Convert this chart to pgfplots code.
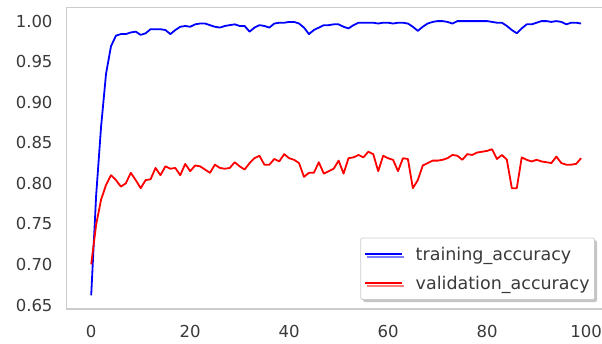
\documentclass[border=0pt]{standalone}
\usepackage{pgfplots}
\pgfplotsset{compat=1.18}
\usepackage{pgfplotstable}
\usepackage{fontspec}
\setmainfont{DejaVu Sans}
\usetikzlibrary{shadows}
\definecolor{framegray}{HTML}{CCCCCC}
\definecolor{tickgray}{HTML}{3A3A3A}
\definecolor{lblue}{HTML}{0000FF}
\definecolor{lred}{HTML}{FF0000}

\pgfplotstableread{
ep acc
0 0.662
1 0.785
2 0.870
3 0.935
4 0.969
5 0.982
6 0.984
7 0.984
8 0.986
9 0.987
10 0.983
11 0.985
12 0.990
13 0.990
14 0.990
15 0.989
16 0.984
17 0.989
18 0.993
19 0.994
20 0.993
21 0.996
22 0.997
23 0.997
24 0.995
25 0.993
26 0.992
27 0.994
28 0.995
29 0.996
30 0.994
31 0.994
32 0.987
33 0.992
34 0.995
35 0.994
36 0.992
37 0.997
38 0.998
39 0.998
40 0.999
41 0.999
42 0.997
43 0.992
44 0.984
45 0.989
46 0.992
47 0.995
48 0.995
49 0.996
50 0.996
51 0.993
52 0.991
53 0.995
54 0.998
55 0.998
56 0.998
57 0.998
58 0.997
59 0.998
60 0.998
61 0.997
62 0.998
63 0.998
64 0.997
65 0.993
66 0.988
67 0.993
68 0.997
69 0.999
70 1.000
71 1.000
72 0.999
73 0.997
74 1.000
75 1.000
76 1.000
77 1.000
78 1.000
79 1.000
80 1.000
81 0.999
82 0.998
83 0.998
84 0.994
85 0.989
86 0.985
87 0.991
88 0.996
89 0.996
90 0.998
91 1.000
92 1.000
93 0.999
94 1.000
95 0.999
96 0.996
97 0.998
98 0.998
99 0.997
}\train

\pgfplotstableread{
ep acc
0 0.700
1 0.749
2 0.780
3 0.798
4 0.810
5 0.804
6 0.796
7 0.800
8 0.813
9 0.804
10 0.794
11 0.804
12 0.805
13 0.819
14 0.810
15 0.821
16 0.818
17 0.819
18 0.810
19 0.824
20 0.815
21 0.822
22 0.821
23 0.817
24 0.813
25 0.823
26 0.819
27 0.818
28 0.819
29 0.826
30 0.821
31 0.817
32 0.825
33 0.831
34 0.834
35 0.823
36 0.823
37 0.830
38 0.827
39 0.836
40 0.831
41 0.829
42 0.825
43 0.808
44 0.813
45 0.813
46 0.826
47 0.812
48 0.815
49 0.818
50 0.828
51 0.812
52 0.831
53 0.832
54 0.835
55 0.832
56 0.839
57 0.836
58 0.815
59 0.834
60 0.831
61 0.829
62 0.815
63 0.831
64 0.830
65 0.794
66 0.804
67 0.822
68 0.825
69 0.828
70 0.828
71 0.829
72 0.831
73 0.835
74 0.834
75 0.829
76 0.836
77 0.835
78 0.838
79 0.839
80 0.840
81 0.842
82 0.830
83 0.835
84 0.829
85 0.794
86 0.794
87 0.832
88 0.829
89 0.827
90 0.829
91 0.827
92 0.826
93 0.825
94 0.833
95 0.825
96 0.823
97 0.823
98 0.824
99 0.831
}\valid

\begin{document}
\begin{tikzpicture}
\useasboundingbox (0,0) rectangle (602pt,344pt);
\begin{axis}[
  at={(66.7pt,35pt)}, anchor=south west,
  scale only axis, width=538.9pt, height=301.6pt,
  xmin=-4.95, xmax=103.95, ymin=0.6451, ymax=1.0169,
  axis line style={draw=framegray, line width=1.3pt},
  major tick length=0pt,
  xtick={0,20,40,60,80,100},
  ytick={0.65,0.7,0.75,0.8,0.85,0.9,0.95,1},
  /pgf/number format/assume math mode=true,
  yticklabel style={/pgf/number format/fixed, /pgf/number format/fixed zerofill, /pgf/number format/precision=2},
  ticklabel style={font=\fontsize{16.5}{19}\selectfont, text=tickgray, inner sep=0pt},
  xticklabel shift=16pt,
  yticklabel shift=14pt,
  legend cell align=left,
  legend style={
    at={(0.9803,0.0300)}, anchor=south east,
    draw=framegray, line width=0.8pt, fill=white, rounded corners=1.5pt,
    drop shadow={shadow xshift=2.5pt, shadow yshift=-2.5pt, fill=black!45},
    font=\fontsize{17.5}{21}\selectfont, text=tickgray,
    inner xsep=3pt, inner ysep=7pt,
    row sep=10pt, column sep=11pt,
    nodes={inner sep=2pt},
  },
  legend image code/.code={\draw[#1, line width=2pt] (0pt,0pt) -- (37pt,0pt);},
]
\addplot[lblue, line width=1.8pt, line join=round] table[x=ep, y=acc] {\train};
\addlegendentry{training\_accuracy}
\addplot[lred, line width=1.8pt, line join=round] table[x=ep, y=acc] {\valid};
\addlegendentry{validation\_accuracy}
\end{axis}
\end{tikzpicture}
\end{document}
